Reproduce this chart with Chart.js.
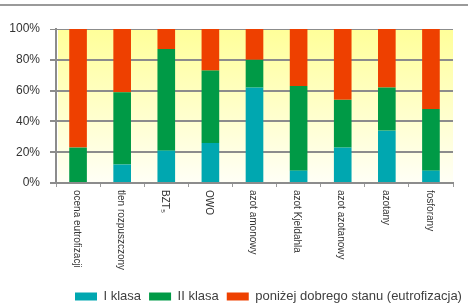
<!DOCTYPE html>
<html>
<head>
<meta charset="utf-8">
<script src="https://cdn.jsdelivr.net/npm/chart.js@4.4.1/dist/chart.umd.min.js"></script>
<style>
  html, body { margin: 0; padding: 0; background: #ffffff; }
  #wrap { position: relative; width: 472px; height: 305px; }
</style>
</head>
<body>
<div id="wrap"><canvas id="c" width="472" height="305"></canvas></div>
<script>
const categories = ['ocena eutrofizacji', 'tlen rozpuszczony', 'BZT₅', 'OWO', 'azot amonowy', 'azot Kjeldahla', 'azot azotanowy', 'azotany', 'fosforany'];
const seriesNames = ['I klasa', 'II klasa', 'poniżej dobrego stanu (eutrofizacja)'];
const klasaI = [0, 12, 21, 26, 62, 8, 23, 34, 8];
const klasaII = [23, 47, 66, 47, 18, 55, 31, 28, 40];
const ponizej = [77, 41, 13, 27, 20, 37, 46, 38, 52];
const yStep = 20;

const FONT = '"Liberation Sans", Arial, sans-serif';
const GRID = '#8c8c8c';

const bgPlugin = {
  id: 'bgPlugin',
  afterUpdate(chart) {
    // place the legend row where the reference has it
    const lg = chart.legend;
    if (!lg || !lg.legendHitBoxes || !lg.legendHitBoxes.length) return;
    const hb = lg.legendHitBoxes[0];
    const dx = 75 - hb.left;
    const dy = 296.5 - (hb.top + hb.height / 2);
    lg.left += dx; lg.right += dx;
    lg.top += dy; lg.bottom += dy;
    lg.legendHitBoxes.forEach(b => { b.left += dx; b.top += dy; });
  },
  beforeDraw(chart) {
    const { ctx, chartArea: a } = chart;
    ctx.save();
    ctx.strokeStyle = '#9a9a9a';
    ctx.lineWidth = 2;
    ctx.beginPath();
    ctx.moveTo(0, 5);
    ctx.lineTo(468, 5);
    ctx.stroke();
    const g = ctx.createLinearGradient(0, a.top, 0, a.bottom);
    g.addColorStop(0, '#ffff99');
    g.addColorStop(1, '#fffff6');
    ctx.fillStyle = g;
    ctx.fillRect(a.left + 2, a.top, a.right - a.left - 2, a.bottom - a.top);
    ctx.restore();
  },
  afterDraw(chart) {
    // category labels, rotated clockwise (read top to bottom)
    const { ctx } = chart;
    const xs = chart.scales.x;
    ctx.save();
    ctx.fillStyle = '#333333';
    ctx.font = '10px ' + FONT;
    ctx.textAlign = 'left';
    ctx.textBaseline = 'middle';
    categories.forEach((lab, i) => {
      const x = xs.getPixelForTick(i) - 1.5;
      const y = xs.top + 7;
      ctx.save();
      ctx.translate(x, y);
      ctx.rotate(Math.PI / 2);
      ctx.fillText(lab, 0, 0);
      ctx.restore();
    });
    ctx.restore();
  }
};

new Chart(document.getElementById('c'), {
  type: 'bar',
  data: {
    labels: categories,
    datasets: [
      { label: seriesNames[0], data: klasaI, backgroundColor: '#00a7b0' },
      { label: seriesNames[1], data: klasaII, backgroundColor: '#009a46' },
      { label: seriesNames[2], data: ponizej, backgroundColor: '#ee4000' }
    ]
  },
  plugins: [bgPlugin],
  options: {
    responsive: false,
    animation: false,
    devicePixelRatio: 1,
    layout: { padding: { left: 0, right: 19, top: 29, bottom: 0 } },
    datasets: { bar: { categoryPercentage: 1, barPercentage: 0.4 } },
    plugins: {
      legend: {
        position: 'bottom',
        align: 'center',
        labels: {
          boxWidth: 22, boxHeight: 8, padding: 8,
          color: '#404040',
          font: { family: FONT, size: 13 }
        }
      },
      tooltip: { enabled: false }
    },
    scales: {
      x: {
        stacked: true,
        grid: { display: true, offset: true, drawOnChartArea: false, tickLength: 4, color: '#9a9a9a', lineWidth: 1 },
        border: { display: true, color: GRID, width: 2 },
        ticks: { display: false },
        afterFit(s) { s.height = 91; }
      },
      y: {
        stacked: true,
        min: 0, max: 100,
        grid: {
          color: GRID,
          lineWidth: c => (c.tick && c.tick.value === 100 ? 1 : 2),
          tickLength: 6
        },
        border: { display: true, color: GRID, width: 2 },
        ticks: {
          stepSize: yStep,
          color: '#333333', padding: 10,
          font: { family: FONT, size: 12 },
          callback: v => v + '%'
        },
        afterFit(s) { s.width = 56; }
      }
    }
  }
});
</script>
</body>
</html>
